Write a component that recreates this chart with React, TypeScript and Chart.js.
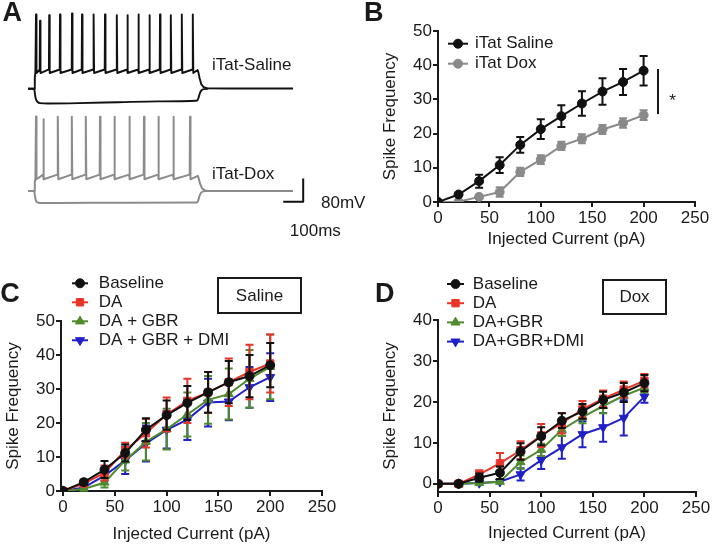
import React, { useEffect, useRef } from 'react';
import { Chart, registerables } from 'chart.js';

Chart.register(...registerables);

const FONT = "'Liberation Sans', Arial, Helvetica, sans-serif";
const TEXT = '#1a1a1a';
const AXIS = '#1a1a1a';

// ---------- Panel A: example traces (time in ms, voltage in mV relative to rest) ----------
const salineSpikeTimes = [40, 60, 106, 160, 220, 270, 328, 385, 444, 497, 552, 607, 660, 714, 769, 824];
const salineSpikePeaks = [254, 233, 252, 254, 258, 254, 254, 254, 252, 252, 254, 252, 254, 252, 254, 254];
const salineTrough = 54;
const salinePreSpike = 66;
const salineOnset = [[0, 0], [31, 0], [34, 40], [37, 56]];
const salineOffset = [[848, 64], [852, 56], [858, 36], [866, 16], [878, 6], [895, 2], [1000, 1], [1325, 1]];
const salineHyper = [[0, 0], [31, 0], [34, -14], [37, -28], [41, -38], [48, -45], [60, -49], [100, -50], [250, -49], [450, -46], [650, -43], [840, -41], [848, -38], [854, -28], [860, -14], [868, -5], [880, -1], [900, 0]];

const doxSpikeTimes = [40, 77, 149, 219, 289, 360, 432, 507, 580, 652, 727, 810];
const doxSpikePeaks = [255, 245, 254, 254, 254, 254, 254, 254, 254, 254, 254, 254];
const doxTrough = 40;
const doxPreSpike = 56;
const doxOnset = [[0, 0], [31, 0], [34, 30], [37, 42]];
const doxOffset = [[849, 52], [853, 44], [860, 26], [870, 9], [884, 2], [900, 0], [1325, 0]];
const doxHyper = [[0, 0], [31, 0], [34, -14], [37, -26], [41, -34], [48, -39], [60, -41], [150, -41], [500, -40], [845, -39], [851, -32], [857, -18], [865, -6], [878, -1], [895, 0]];

const scaleBarMs = [1276, 1376, 1376];
const scaleBarMv = [-37, -37, 43];

// ---------- Panel B ----------
const currents = [0, 20, 40, 60, 80, 100, 120, 140, 160, 180, 200];
const xTickValues = [0, 50, 100, 150, 200, 250];
const bSaline = [0, 2.2, 6.1, 10.8, 16.7, 21.3, 25.1, 28.8, 32.3, 35.1, 38.4];
const bSalineErr = [0, 0.4, 1.9, 2.3, 2.3, 2.9, 3.2, 3.6, 3.9, 3.8, 4.3];
const bDox = [0, 0.1, 1.5, 2.9, 8.8, 12.4, 16.4, 18.5, 21.2, 23.1, 25.4];
const bDoxErr = [0, 0.3, 0.6, 1.4, 1.2, 1.3, 1.2, 1.3, 1.3, 1.4, 1.4];
const bTicks = [0, 10, 20, 30, 40, 50];
const sigBarX = 214;
const sigBarLow = 25.7;
const sigBarHigh = 38.9;

// ---------- Panel C (Saline) ----------
const cBaseline = [0, 2.6, 6.3, 11.2, 18, 22.3, 25.9, 29, 32, 33.8, 37];
const cBaselineErr = [0, 0.8, 2.5, 2.5, 3.4, 4.3, 5, 6, 6.2, 6.2, 6.5];
const cDA = [0, 2.2, 5.3, 12, 17, 22.5, 26.5, 29, 32, 35, 37.5];
const cDAErr = [0, 0.5, 2.2, 2.2, 4.2, 5, 6.5, 6, 7, 8, 8.5];
const cGBR = [0, 0.6, 2.5, 9, 14.5, 18.2, 22.5, 26.8, 28.5, 33, 36.5];
const cGBRErr = [0, 0.5, 1.5, 3, 5.5, 6, 6.5, 7, 7.5, 8.5, 9.5];
const cDMI = [0, 1, 4.5, 9, 14, 18, 21, 26, 26.3, 30.5, 33.5];
const cDMIErr = [0, 0.5, 1.5, 4, 5.3, 5.5, 6, 7, 5.5, 6, 7];
const cTicks = [0, 10, 20, 30, 40, 50];

// ---------- Panel D (Dox) ----------
const dBaseline = [0, 0, 1.5, 2.7, 7.9, 11.6, 15.4, 17.7, 20.5, 22.3, 24.6];
const dBaselineErr = [0, 0, 1, 1.5, 2, 2.2, 1.8, 1.8, 2, 2.3, 2];
const dDA = [0, 0, 2.3, 5, 8.2, 11.8, 14.8, 18.2, 20.8, 23, 25.2];
const dDAErr = [0, 0, 1, 2.5, 2.2, 2.8, 2.5, 2, 2, 2, 1.6];
const dGBR = [0, 0, 0.2, 0.5, 5.3, 8.3, 13.2, 16.3, 19, 21.5, 23.5];
const dGBRErr = [0, 0, 0.3, 0.3, 1.6, 1.5, 1.5, 1.5, 1.8, 1.5, 1.2];
const dDMI = [0, 0, 0.2, 0.5, 2.3, 5.8, 8.9, 12.1, 13.8, 16.1, 21.3];
const dDMIErr = [0, 0, 0.2, 0.3, 1.5, 2.2, 2.8, 3.2, 3.5, 4.3, 1.5];
const dTicks = [0, 10, 20, 30, 40];

const cLabels = ['Baseline', 'DA', 'DA + GBR', 'DA + GBR + DMI'];
const dLabels = ['Baseline', 'DA', 'DA+GBR', 'DA+GBR+DMI'];

const COL_BLACK = '#111111';
const COL_GRAY = '#8a8a8a';
const COL_RED = '#e8352a';
const COL_GREEN = '#4e8a2e';
const COL_BLUE = '#2020c8';

// ---------- helpers ----------
function toPts(arr: number[][]) {
  return arr.map(([x, y]) => ({ x, y }));
}

function spikeTrain(onset: number[][], times: number[], peaks: number[], trough: number, pre: number, offset: number[][]) {
  const pts = toPts(onset);
  times.forEach((t, i) => {
    if (i > 0) pts.push({ x: t - 1.5, y: pre });
    pts.push({ x: t, y: peaks[i] });
    pts.push({ x: t + 2.5, y: trough });
  });
  return pts.concat(toPts(offset));
}

function series(values: number[]) {
  return currents.map((x, i) => ({ x, y: values[i] }));
}

function drawMarker(ctx: CanvasRenderingContext2D, style: string, x: number, y: number, r: number, color: string, rotation = 0) {
  ctx.save();
  ctx.fillStyle = color;
  ctx.strokeStyle = color;
  ctx.lineWidth = 1;
  ctx.beginPath();
  if (style === 'rect') {
    const s = Math.SQRT1_2 * r;
    ctx.rect(x - s, y - s, 2 * s, 2 * s);
  } else if (style === 'triangle') {
    let rad = (rotation * Math.PI) / 180;
    ctx.moveTo(x + Math.sin(rad) * r, y - Math.cos(rad) * r);
    rad += (2 * Math.PI) / 3;
    ctx.lineTo(x + Math.sin(rad) * r, y - Math.cos(rad) * r);
    rad += (2 * Math.PI) / 3;
    ctx.lineTo(x + Math.sin(rad) * r, y - Math.cos(rad) * r);
    ctx.closePath();
  } else {
    ctx.arc(x, y, r, 0, Math.PI * 2);
  }
  ctx.fill();
  ctx.stroke();
  ctx.restore();
}

const errorBarPlugin = {
  id: 'errorBars',
  afterDatasetDraw(chart: any, args: any) {
    const ds = chart.data.datasets[args.index];
    const errs: number[] | undefined = ds.errors;
    if (!errs) return;
    const xs = chart.scales.x;
    const ys = chart.scales.y;
    const ctx = chart.ctx;
    const cap = 4;
    ctx.save();
    ctx.strokeStyle = ds.borderColor;
    ctx.lineWidth = 2;
    ds.data.forEach((p: any, i: number) => {
      const e = errs[i];
      if (!e || e < 0.5) return;
      const x = xs.getPixelForValue(p.x);
      const y1 = ys.getPixelForValue(p.y + e);
      const y2 = ys.getPixelForValue(p.y - e);
      ctx.beginPath();
      ctx.moveTo(x, y1);
      ctx.lineTo(x, y2);
      ctx.moveTo(x - cap, y1);
      ctx.lineTo(x + cap, y1);
      ctx.moveTo(x - cap, y2);
      ctx.lineTo(x + cap, y2);
      ctx.stroke();
    });
    ctx.restore();
  },
};

function legendPlugin(cx: number, half: number, textX: number, y0: number, gap: number) {
  return {
    id: 'customLegend',
    afterDraw(chart: any) {
      const ctx = chart.ctx;
      ctx.save();
      chart.data.datasets.forEach((ds: any, i: number) => {
        const y = y0 + i * gap;
        ctx.strokeStyle = ds.borderColor;
        ctx.lineWidth = 2;
        ctx.beginPath();
        ctx.moveTo(cx - half, y);
        ctx.lineTo(cx + half, y);
        ctx.stroke();
        drawMarker(ctx, ds.pointStyle, cx, y, ds.pointRadius, ds.backgroundColor, ds.pointRotation || 0);
        ctx.fillStyle = TEXT;
        ctx.font = `17px ${FONT}`;
        ctx.textBaseline = 'middle';
        ctx.textAlign = 'left';
        ctx.fillText(ds.label, textX, y);
      });
      ctx.restore();
    },
  };
}

const sigPlugin = {
  id: 'sigBar',
  afterDatasetsDraw(chart: any) {
    const ctx = chart.ctx;
    const x = chart.scales.x.getPixelForValue(sigBarX);
    const y1 = chart.scales.y.getPixelForValue(sigBarHigh);
    const y2 = chart.scales.y.getPixelForValue(sigBarLow);
    ctx.save();
    ctx.strokeStyle = AXIS;
    ctx.lineWidth = 2;
    ctx.beginPath();
    ctx.moveTo(x, y1);
    ctx.lineTo(x, y2);
    ctx.stroke();
    ctx.fillStyle = TEXT;
    ctx.font = `17px ${FONT}`;
    ctx.textAlign = 'center';
    ctx.textBaseline = 'alphabetic';
    ctx.fillText('*', x + 14.5, (y1 + y2) / 2 + 14);
    ctx.restore();
  },
};

const tickFont = { family: FONT, size: 17 };

function xAxis(min: number, height: number, titlePadBottom: number) {
  return {
    type: 'linear',
    min,
    max: 250,
    afterBuildTicks: (s: any) => {
      s.ticks = xTickValues.map((v) => ({ value: v }));
    },
    afterFit: (s: any) => {
      s.height = height;
    },
    grid: { display: true, drawOnChartArea: false, drawTicks: true, tickLength: 5, tickWidth: 2, tickColor: AXIS, color: AXIS, lineWidth: 2 },
    border: { display: true, color: AXIS, width: 2 },
    ticks: { font: tickFont, color: TEXT, padding: 1.5, maxRotation: 0, autoSkip: false },
    title: { display: true, text: 'Injected Current (pA)', font: tickFont, color: TEXT, padding: { top: 0, bottom: titlePadBottom } },
  };
}

function yAxis(min: number, max: number, ticks: number[], width: number, titlePadTop: number) {
  return {
    type: 'linear',
    min,
    max,
    afterBuildTicks: (s: any) => {
      s.ticks = ticks.map((v) => ({ value: v }));
    },
    afterFit: (s: any) => {
      s.width = width;
    },
    grid: { display: true, drawOnChartArea: false, drawTicks: true, tickLength: 5, tickWidth: 2, tickColor: AXIS, color: AXIS, lineWidth: 2 },
    border: { display: true, color: AXIS, width: 2 },
    ticks: { font: tickFont, color: TEXT, padding: 1, autoSkip: false },
    title: { display: true, text: 'Spike Frequency', font: tickFont, color: TEXT, padding: { top: titlePadTop, bottom: 0 } },
  };
}

function lineDs(label: string, values: number[], errs: number[], color: string, style: string, radius: number, rotation = 0) {
  return {
    label,
    data: series(values),
    errors: errs,
    borderColor: color,
    backgroundColor: color,
    pointBorderColor: color,
    pointBackgroundColor: color,
    borderWidth: 2,
    pointRadius: radius,
    pointBorderWidth: 1,
    pointStyle: style,
    pointRotation: rotation,
    tension: 0,
  };
}

const baseOptions = {
  animation: false,
  responsive: false,
  events: [],
  plugins: { legend: { display: false }, tooltip: { enabled: false } },
};

function makeA(canvas: HTMLCanvasElement) {
  const traceDs = (data: any[], color: string, axis: string, width: number, smooth = false) => ({
    data,
    yAxisID: axis,
    borderColor: color,
    borderWidth: width,
    pointRadius: 0,
    tension: 0,
    cubicInterpolationMode: smooth ? 'monotone' : 'default',
    borderJoinStyle: 'round',
  });
  return new Chart(canvas, {
    type: 'line',
    data: {
      datasets: [
        traceDs(spikeTrain(salineOnset, salineSpikeTimes, salineSpikePeaks, salineTrough, salinePreSpike, salineOffset), COL_BLACK, 'ys', 1.9),
        traceDs(toPts(salineHyper), COL_BLACK, 'ys', 1.9, true),
        traceDs(spikeTrain(doxOnset, doxSpikeTimes, doxSpikePeaks, doxTrough, doxPreSpike, doxOffset), '#8c8c8c', 'yd', 2),
        traceDs(toPts(doxHyper), '#8c8c8c', 'yd', 2, true),
        traceDs(scaleBarMs.map((x, i) => ({ x, y: scaleBarMv[i] })), COL_BLACK, 'yd', 2),
      ] as any,
    },
    options: {
      ...baseOptions,
      layout: { padding: 0 },
      scales: {
        x: { type: 'linear', display: false, min: -140, max: 1645 },
        ys: { type: 'linear', display: false, min: -585.3, max: 303.6 },
        yd: { type: 'linear', display: false, min: -235.9, max: 653 },
      },
    } as any,
  });
}

function makeB(canvas: HTMLCanvasElement) {
  return new Chart(canvas, {
    type: 'line',
    data: {
      datasets: [
        lineDs('iTat Saline', bSaline, bSalineErr, COL_BLACK, 'circle', 4.5),
        lineDs('iTat Dox', bDox, bDoxErr, COL_GRAY, 'circle', 4.5),
      ] as any,
    },
    options: {
      ...baseOptions,
      layout: { padding: { left: 0, right: 19, top: 31, bottom: 0 } },
      scales: { x: xAxis(0, 58, 10), y: yAxis(0, 50, bTicks, 78, 20) },
    } as any,
    plugins: [errorBarPlugin, sigPlugin, legendPlugin(98, 10, 115, 43.7, 20)],
  });
}

function makeC(canvas: HTMLCanvasElement) {
  return new Chart(canvas, {
    type: 'line',
    data: {
      datasets: [
        lineDs(cLabels[0], cBaseline, cBaselineErr, COL_BLACK, 'circle', 4.5),
        lineDs(cLabels[1], cDA, cDAErr, COL_RED, 'rect', 5.2),
        lineDs(cLabels[2], cGBR, cGBRErr, COL_GREEN, 'triangle', 5.2),
        lineDs(cLabels[3], cDMI, cDMIErr, COL_BLUE, 'triangle', 5.2, 180),
      ] as any,
    },
    options: {
      ...baseOptions,
      layout: { padding: { left: 0, right: 35, top: 51, bottom: 0 } },
      scales: { x: xAxis(-2, 53, -1), y: yAxis(0, 50, cTicks, 61, 3.3) },
    } as any,
    plugins: [errorBarPlugin, legendPlugin(80, 8, 98.8, 13.3, 19)],
  });
}

function makeD(canvas: HTMLCanvasElement) {
  return new Chart(canvas, {
    type: 'line',
    data: {
      datasets: [
        lineDs(dLabels[0], dBaseline, dBaselineErr, COL_BLACK, 'circle', 4.5),
        lineDs(dLabels[1], dDA, dDAErr, COL_RED, 'rect', 5.2),
        lineDs(dLabels[2], dGBR, dGBRErr, COL_GREEN, 'triangle', 5.2),
        lineDs(dLabels[3], dDMI, dDMIErr, COL_BLUE, 'triangle', 5.2, 180),
      ] as any,
    },
    options: {
      ...baseOptions,
      layout: { padding: { left: 0, right: 18, top: 50, bottom: 0 } },
      scales: { x: xAxis(0, 52, 0.8), y: yAxis(-2, 40, dTicks, 81, 22.8) },
    } as any,
    plugins: [errorBarPlugin, legendPlugin(98.5, 8.5, 115.8, 14, 19.2)],
  });
}

const abs = (left: number, top: number): React.CSSProperties => ({ position: 'absolute', left, top });

function Label({ left, top, text, size = 17, bold = false }: { left: number; top: number; text: string; size?: number; bold?: boolean }) {
  return (
    <div
      style={{
        ...abs(left, top),
        fontSize: size,
        lineHeight: bold ? `${size}px` : '20px',
        fontWeight: bold ? 700 : 400,
        color: TEXT,
        whiteSpace: 'nowrap',
      }}
    >
      {text}
    </div>
  );
}

function Box({ left, top, width, height, text }: { left: number; top: number; width: number; height: number; text: string }) {
  return (
    <div
      style={{
        ...abs(left, top),
        width,
        height,
        boxSizing: 'border-box',
        border: `2px solid ${AXIS}`,
        display: 'flex',
        alignItems: 'center',
        justifyContent: 'center',
        fontSize: 17,
        color: TEXT,
      }}
    >
      {text}
    </div>
  );
}

export default function App() {
  const aRef = useRef<HTMLCanvasElement>(null);
  const bRef = useRef<HTMLCanvasElement>(null);
  const cRef = useRef<HTMLCanvasElement>(null);
  const dRef = useRef<HTMLCanvasElement>(null);

  useEffect(() => {
    const charts = [makeA(aRef.current!), makeB(bRef.current!), makeC(cRef.current!), makeD(dRef.current!)];
    return () => charts.forEach((c) => c.destroy());
  }, []);

  return (
    <div
      style={{
        position: 'absolute',
        left: 0,
        top: 0,
        width: 714,
        height: 544,
        overflow: 'hidden',
        background: '#ffffff',
        fontFamily: FONT,
      }}
    >
      <canvas ref={aRef} width={357} height={260} style={{ ...abs(0, 0), width: 357, height: 260 }} />
      <canvas ref={bRef} width={354} height={260} style={{ ...abs(360, 0), width: 354, height: 260 }} />
      <canvas ref={cRef} width={357} height={274} style={{ ...abs(0, 270), width: 357, height: 274 }} />
      <canvas ref={dRef} width={357} height={274} style={{ ...abs(357, 270), width: 357, height: 274 }} />

      <Label left={2.5} top={-0.8} text="A" size={27} bold />
      <Label left={364} top={-0.8} text="B" size={27} bold />
      <Label left={0.3} top={279.8} text="C" size={27} bold />
      <Label left={375} top={279.8} text="D" size={27} bold />

      <Label left={212} top={55.2} text="iTat-Saline" />
      <Label left={212} top={163.5} text="iTat-Dox" />
      <Label left={321} top={192.5} text="80mV" />
      <Label left={289.8} top={221} text="100ms" />

      <Box left={217} top={277} width={85} height={37} text="Saline" />
      <Box left={602} top={279} width={65} height={36} text="Dox" />
    </div>
  );
}
